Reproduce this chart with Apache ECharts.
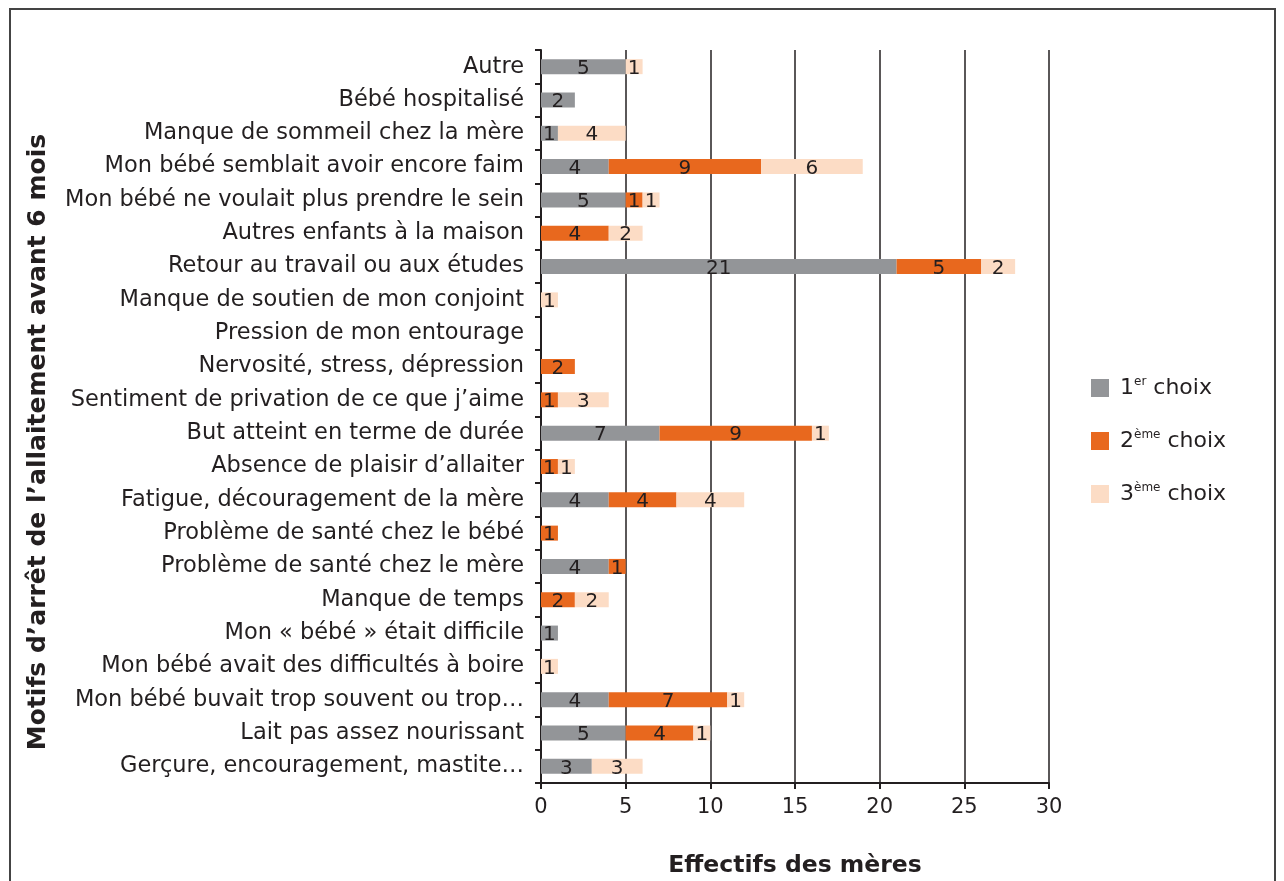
<!DOCTYPE html>
<html><head><meta charset="utf-8">
<script src="https://cdn.jsdelivr.net/npm/echarts@6/dist/echarts.min.js"></script>
<style>html,body{margin:0;padding:0;background:#fff}#c{width:1284px;height:881px}</style>
</head><body><div id="c"></div>
<script>
const categories = [
  "Autre",
  "Bébé hospitalisé",
  "Manque de sommeil chez la mère",
  "Mon bébé semblait avoir encore faim",
  "Mon bébé ne voulait plus prendre le sein",
  "Autres enfants à la maison",
  "Retour au travail ou aux études",
  "Manque de soutien de mon conjoint",
  "Pression de mon entourage",
  "Nervosité, stress, dépression",
  "Sentiment de privation de ce que j’aime",
  "But atteint en terme de durée",
  "Absence de plaisir d’allaiter",
  "Fatigue, découragement de la mère",
  "Problème de santé chez le bébé",
  "Problème de santé chez le mère",
  "Manque de temps",
  "Mon « bébé » était difficile",
  "Mon bébé avait des difficultés à boire",
  "Mon bébé buvait trop souvent ou trop…",
  "Lait pas assez nourissant",
  "Gerçure, encouragement, mastite…"
];
const choix1 = [5,2,1,4,5,0,21,0,0,0,0,7,0,4,0,4,0,1,0,4,5,3];
const choix2 = [0,0,0,9,1,4,5,0,0,2,1,9,1,4,1,1,2,0,0,7,4,0];
const choix3 = [1,0,4,6,1,2,2,1,0,0,3,1,1,4,0,0,2,0,1,1,1,3];
const xTicks = [0,5,10,15,20,25,30];
const seriesNames = ["1er choix","2ème choix","3ème choix"];
const yTitle = "Motifs d’arrêt de l’allaitement avant 6 mois";
const xTitle = "Effectifs des mères";

const FONT = "DejaVu Sans";
const INK = '#231f20';
const chart = echarts.init(document.getElementById('c'));
const lbl = {
  show: true, position: 'inside', color: INK, fontSize: 20, fontFamily: FONT,
  offset: [0, 2],
  formatter: p => p.value === 0 ? '' : String(p.value)
};
function mk(name, data, color) {
  return { name, type: 'bar', stack: 'a', data, barWidth: 15, itemStyle: { color }, label: lbl, silent: true };
}
chart.setOption({
  animation: false,
  textStyle: { fontFamily: FONT },
  graphic: [{
    type: 'rect', shape: { x: 10, y: 9, width: 1265, height: 900 },
    style: { fill: 'none', stroke: '#444', lineWidth: 2 }, silent: true
  }, {
    type: 'text', x: 38, y: 442, rotation: Math.PI / 2, silent: true,
    style: { text: yTitle, fontFamily: FONT, fontSize: 25, fontWeight: 'bold', fill: INK,
      align: 'center', verticalAlign: 'middle' }
  }],
  grid: { left: 541, right: 235, top: 50, bottom: 98, containLabel: false, outerBoundsMode: 'none' },
  legend: {
    orient: 'vertical', left: 1086, top: 371, itemGap: 30, itemWidth: 18, itemHeight: 18,
    icon: 'rect',
    data: seriesNames,
    formatter: n => {
      const m = n.match(/^(\d)(\S+) (.*)$/);
      return '{n|' + m[1] + '}{s|' + m[2] + '}{n| ' + m[3] + '}';
    },
    textStyle: {
      fontFamily: FONT, fontSize: 22, color: INK, padding: [0,0,0,6],
      rich: {
        n: { fontSize: 22, fontFamily: FONT, color: INK, lineHeight: 24 },
        s: { fontSize: 12, fontFamily: FONT, color: INK, verticalAlign: 'top', lineHeight: 24, padding: [0,0,10,0] }
      }
    }
  },
  xAxis: {
    type: 'value', min: 0, max: 30, interval: 5,
    name: xTitle, nameLocation: 'middle', nameGap: 71,
    nameTextStyle: { fontFamily: FONT, fontSize: 23.5, fontWeight: 'bold', color: INK },
    axisLine: { show: true, lineStyle: { color: INK, width: 2 } },
    axisTick: { show: true, length: 6, lineStyle: { color: INK, width: 2 } },
    axisLabel: { fontSize: 21, color: INK, margin: 14, fontFamily: FONT,
      formatter: v => xTicks.includes(v) ? String(v) : '' },
    splitLine: { show: true, lineStyle: { color: INK, width: 1.5 } }
  },
  yAxis: {
    type: 'category', data: categories, inverse: true,
    axisLine: { show: true, lineStyle: { color: INK, width: 2 } },
    axisTick: { show: true, length: 6, alignWithLabel: false, lineStyle: { color: INK, width: 2 } },
    axisLabel: { fontSize: 22.5, color: INK, margin: 17, fontFamily: FONT, padding: [5, 0, 0, 0] }
  },
  series: [
    mk(seriesNames[0], choix1, '#939598'),
    mk(seriesNames[1], choix2, '#e8681e'),
    mk(seriesNames[2], choix3, '#fcdcc5')
  ]
});
</script></body></html>
